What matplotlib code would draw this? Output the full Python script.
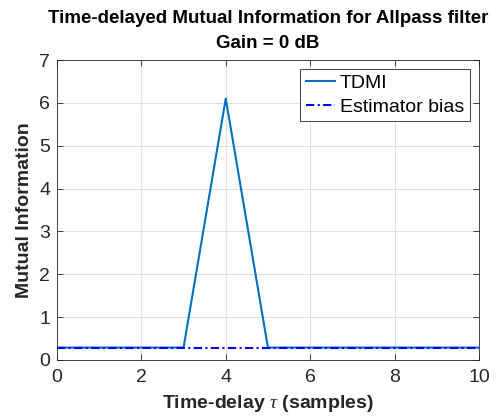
import numpy as np
import matplotlib.pyplot as plt

plt.rcParams['font.family'] = ['Liberation Sans', 'DejaVu Sans']
plt.rcParams['mathtext.fontset'] = 'custom'
plt.rcParams['mathtext.it'] = 'Liberation Serif:italic'

# time-delay axis and mutual information estimates
tau = np.arange(0, 11)
tdmi = [0.29, 0.29, 0.29, 0.29, 6.1, 0.29, 0.29, 0.29, 0.29, 0.29, 0.29]
bias = [0.29] * 11

fig = plt.figure(figsize=(5.02, 4.17), dpi=100)
ax = fig.add_axes([0.1135, 0.1367, 0.8405, 0.7194])

ax.plot(tau, tdmi, color='#0072BD', lw=1.5, label='TDMI')
ax.plot(tau, bias, color='#0000FF', lw=1.5, ls=(0, (4, 1.6, 1, 1.6)),
        label='Estimator bias')

ax.set_xlim(0, 10)
ax.set_ylim(0, 7)
ax.set_xticks(range(0, 11, 2))
ax.set_yticks(range(0, 8))
ax.grid(True, color='#dfdfdf', lw=0.8)
ax.set_axisbelow(True)
for s in ax.spines.values():
    s.set_color('#262626')
    s.set_linewidth(0.6)
ax.tick_params(direction='in', length=4, width=0.6, color='#262626',
               labelsize=14, labelcolor='#262626', top=True, right=True,
               labeltop=False, labelright=False)
ax.tick_params(axis='x', pad=6.5)
ax.tick_params(axis='y', pad=5)

ax.set_xlabel(r'Time-delay $\tau$ (samples)', fontsize=14, fontweight='bold',
              color='#262626', labelpad=5)
ax.set_ylabel('Mutual Information', fontsize=14, fontweight='bold',
              color='#262626', labelpad=4)
ax.set_title('Time-delayed Mutual Information for Allpass filter\nGain = 0 dB',
             fontsize=13.5, fontweight='bold', color='#000000', pad=9,
             linespacing=1.55)

leg = ax.legend(loc='upper right', fontsize=14, fancybox=False, framealpha=1,
                edgecolor='#262626', handlelength=1.5, borderaxespad=0.45,
                handletextpad=0.25, labelspacing=0.3, borderpad=0.3)
leg.get_frame().set_linewidth(0.6)

fig.savefig('out.png', dpi=100)
